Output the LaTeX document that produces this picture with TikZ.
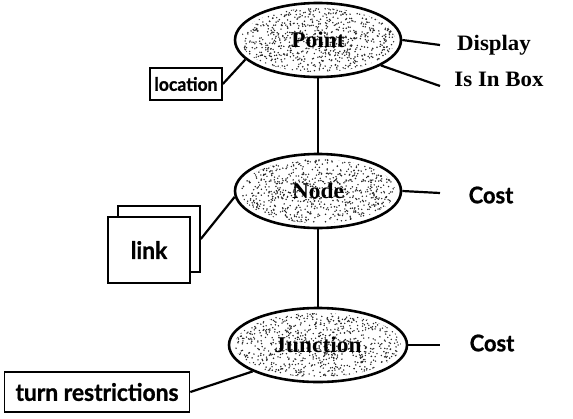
\documentclass[tikz,border=0pt]{standalone}
\usepackage{fontspec}
\setmainfont[FakeStretch=1.04]{Liberation Serif}
\setsansfont[FakeStretch=0.95,FakeBold=1]{Lato}
\usetikzlibrary{shapes,positioning,calc,backgrounds}

\newcommand{\fs}[1]{\fontsize{#1}{#1}\selectfont}

\tikzset{
  entity/.style={ellipse, draw, line width=2.6pt, minimum width=166pt, minimum height=74pt,
    font=\bfseries\fs{22.5}},
  attrbox/.style={draw, line width=1.6pt, fill=white, font=\sffamily\bfseries},
  attr/.style={inner xsep=0pt},
  serifattr/.style={attr, font=\bfseries\fs{22}},
  sansattr/.style={attr, font=\sffamily\bfseries\fs{23}},
  conn/.style={line width=2.2pt}
}

\begin{document}
\begin{tikzpicture}[x=1pt,y=-1pt]
    \useasboundingbox (0,0) rectangle (573,418);

    % the three entities
    \node[entity] (point) at (318,40) {Point};
    \node[entity] (node) at (318,191) {Node};
    \node[entity, minimum width=178pt] (junction) at (318,345) {Junction};

    % speckled fill
    \begin{scope}[on background layer]
    \pgfmathsetseed{7}
    \foreach \n/\rx in {point/77,node/77,junction/83} {
        \begin{scope}
            \clip (\n.center) ellipse [x radius=\rx, y radius=32];
            \foreach \i in {1,...,900}
                \fill[black!85] ($(\n.center)+(rand*\rx,rand*32)$) circle (0.8pt);
        \end{scope}
    }
    \end{scope}

    % attributes
    \node[serifattr] (display) at (494,45) {Display};
    \node[serifattr] (isinbox) at (499,79) {Is In Box};
    \node[sansattr] (cost1) at (491,195) {Cost};
    \node[sansattr] (cost2) at (492,343) {Cost};

    \coordinate (d) at (440,45);
    \coordinate (b) at (440,86);
    \coordinate (c1) at (440,193);
    \coordinate (c2) at (440,345);
    \draw[conn] (point.east) -- (d);
    \draw[conn] (point.-22) -- (b);
    \draw[conn] (node.east) -- (c1);
    \draw[conn] (junction.east) -- (c2);

    % boxes
    \node[attrbox, font=\sffamily\bfseries\fs{18.5}, minimum width=72pt, minimum height=32pt] (location) at (186,84) {location};
    \node[attrbox, minimum width=82pt, minimum height=66pt] (linkback) at (159,239) {};
    \node[attrbox, font=\sffamily\bfseries\fs{24}, minimum width=82pt, minimum height=66pt] (link) at (149,250) {link};
    \node[attrbox, font=\sffamily\bfseries\fs{24}, minimum width=185pt, minimum height=40pt] (turn) at (97,392) {turn restrictions};

    \draw[conn] (location.east) -- (point.195);
    \draw[conn] (linkback.east) -- (node.184);
    \draw[conn] (turn.east) -- (junction.202);

    % entity links
    \draw[conn] (point.south) -- (node.north);
    \draw[conn] (node.south) -- (junction.north);
\end{tikzpicture}
\end{document}
